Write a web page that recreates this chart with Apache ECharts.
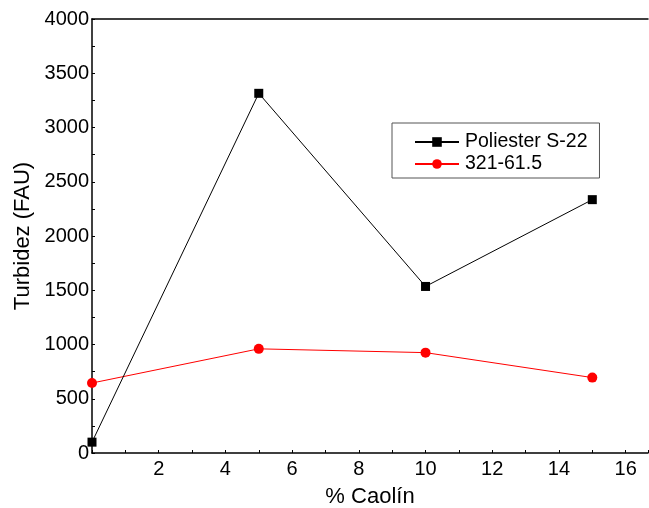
<!DOCTYPE html>
<html>
<head>
<meta charset="utf-8">
<script src="https://cdn.jsdelivr.net/npm/echarts@6/dist/echarts.min.js"></script>
<style>
  html, body { margin: 0; padding: 0; background: #fff; }
  #chart { width: 649px; height: 508px; }
</style>
</head>
<body>
<div id="chart"></div>
<script>
// % caolín added to each sample
const caolin = [0, 5, 10, 15];
// Turbidity (FAU) per resin
const poliesterS22 = [100, 3315, 1535, 2335];
const resina321 = [645, 960, 925, 695];
const seriesNames = ['Poliester S-22', '321-61.5'];

const font = 'Liberation Sans, Arial, sans-serif';

const chart = echarts.init(document.getElementById('chart'), null, { renderer: 'canvas' });

const pairs = (xs, ys) => xs.map((x, i) => [x, ys[i]]);

chart.setOption({
  animation: false,
  backgroundColor: '#fff',
  textStyle: { fontFamily: font },
  grid: { left: 92, right: 1, top: 19, bottom: 55, containLabel: false, outerBoundsMode: 'none' },
  legend: {
    orient: 'vertical',
    left: 392,
    top: 123,
    padding: [9, 12, 4, 22],
    itemGap: 2,
    itemWidth: 44,
    itemHeight: 12,
    borderColor: '#555',
    borderWidth: 1,
    textStyle: { fontFamily: font, fontSize: 19.5, color: '#000', padding: [0, 0, 0, 1] },
    data: seriesNames
  },
  xAxis: [{
    type: 'value',
    min: 0,
    max: 16.67,
    interval: 2,
    name: '% Caolín',
    nameLocation: 'middle',
    nameGap: 33,
    nameTextStyle: { fontFamily: font, fontSize: 22, color: '#000' },
    axisLine: { show: true, onZero: false, lineStyle: { color: '#000', width: 1.5 } },
    axisTick: { show: true, inside: true, length: 3, lineStyle: { color: '#000' } },
    minorTick: { show: true, splitNumber: 2, length: 3, lineStyle: { color: '#000' } },
    splitLine: { show: false },
    axisLabel: {
      showMinLabel: false,
      showMaxLabel: false,
      fontFamily: font, fontSize: 20, color: '#000', margin: 6,
      formatter: v => (v > 0 && Number.isInteger(v)) ? String(v) : ''
    }
  }, {
    type: 'value',
    position: 'top',
    min: 0,
    max: 16.67,
    axisLine: { show: true, onZero: false, lineStyle: { color: '#000', width: 1.5 } },
    axisTick: { show: false },
    axisLabel: { show: false },
    splitLine: { show: false }
  }],
  yAxis: {
    type: 'value',
    min: 0,
    max: 4000,
    interval: 500,
    name: 'Turbidez (FAU)',
    nameLocation: 'middle',
    nameGap: 58,
    nameTextStyle: { fontFamily: font, fontSize: 22, color: '#000' },
    axisLine: { show: true, onZero: false, lineStyle: { color: '#000', width: 1.5 } },
    axisTick: { show: true, inside: true, length: 3, lineStyle: { color: '#000' } },
    minorTick: { show: true, splitNumber: 2, length: 3, lineStyle: { color: '#000' } },
    splitLine: { show: false },
    axisLabel: { fontFamily: font, fontSize: 20, color: '#000', margin: 3, formatter: v => String(v) }
  },
  series: [{
    name: seriesNames[0],
    type: 'line',
    data: pairs(caolin, poliesterS22),
    symbol: 'rect',
    symbolSize: 9,
    itemStyle: { color: '#000' },
    lineStyle: { color: '#000', width: 1 },
    z: 3
  }, {
    name: seriesNames[1],
    type: 'line',
    data: pairs(caolin, resina321),
    symbol: 'circle',
    symbolSize: 10,
    itemStyle: { color: '#ff0000' },
    lineStyle: { color: '#ff0000', width: 1 },
    z: 2
  }]
});
</script>
</body>
</html>
